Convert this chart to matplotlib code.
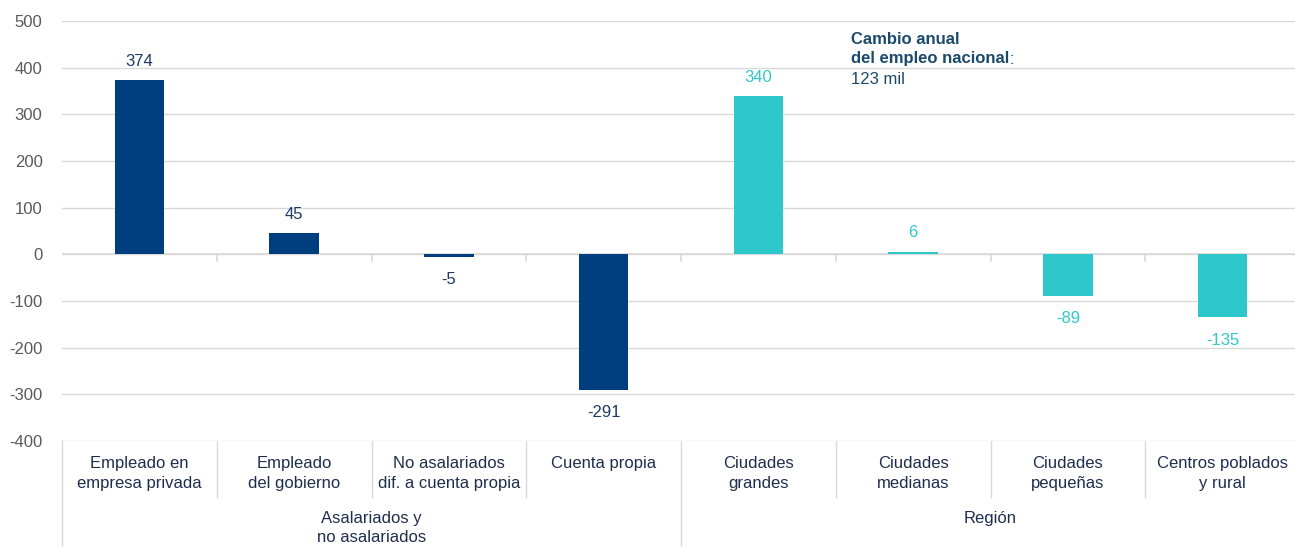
import matplotlib.pyplot as plt
import matplotlib.transforms as mtransforms

plt.rcParams['font.family'] = ['Liberation Sans', 'DejaVu Sans']
plt.rcParams['axes.unicode_minus'] = False

categories = ['Empleado en\nempresa privada', 'Empleado\ndel gobierno',
              'No asalariados\ndif. a cuenta propia', 'Cuenta propia',
              'Ciudades\ngrandes', 'Ciudades\nmedianas', 'Ciudades\npequeñas',
              'Centros poblados\ny rural']
values = [374, 45, -5, -291, 340, 6, -89, -135]
groups = ['Asalariados y\nno asalariados', 'Región']
group_sizes = [4, 4]
yticks = [-400, -300, -200, -100, 0, 100, 200, 300, 400, 500]

BLUE = '#003f7f'
TEAL = '#2ec8cc'
TEXT = '#1f2d4d'
GRID = '#d9d9d9'

W, H = 1295, 547
fig = plt.figure(figsize=(W / 100, H / 100), dpi=100)
left, right, bottom, top = 62, 1300, 441, 21
ax = fig.add_axes([left / W, (H - bottom) / H, (right - left) / W, (bottom - top) / H])

colors = [BLUE] * group_sizes[0] + [TEAL] * group_sizes[1]
x = list(range(len(values)))
ax.bar(x, values, width=0.32, color=colors, zorder=3)

for xi, v, c in zip(x, values, colors):
    lab_color = '#1f3864' if c == BLUE else TEAL
    if v >= 0:
        ax.annotate(str(v), (xi, v), xytext=(0, 8), textcoords='offset points',
                    ha='center', va='bottom', fontsize=12, color=lab_color)
    else:
        ax.annotate(str(v), (xi, v), xytext=(0, -11), textcoords='offset points',
                    ha='center', va='top', fontsize=12, color=lab_color)

ax.set_xlim(-0.5, len(values) - 0.5)
ax.set_ylim(-400, 500)
ax.set_yticks(yticks)
ax.tick_params(axis='y', length=0, labelsize=12, labelcolor='#595959', pad=14)
ax.set_xticks([])
for s in ax.spines.values():
    s.set_visible(False)
ax.grid(axis='y', color=GRID, linewidth=1, zorder=0)
ax.axhline(0, color=GRID, linewidth=1.2, zorder=2)

# small tick marks on the zero line at category boundaries
for b in range(1, len(values)):
    ax.plot([b - 0.5, b - 0.5], [0, -14], color=GRID, linewidth=1.2, zorder=2)

# two-level category axis below the plot
trans = mtransforms.blended_transform_factory(ax.transData, fig.transFigure)
def fy(py):
    return (H - py) / H

for xi, cat in zip(x, categories):
    ax.text(xi, fy(456), cat, transform=trans, ha='center', va='top',
            fontsize=12, color=TEXT, linespacing=1.4)

inner = [b - 0.5 for b in range(1, len(values)) if b != group_sizes[0]]
for b in inner:
    ax.plot([b, b], [fy(441), fy(497)], transform=trans, color=GRID,
            linewidth=1, clip_on=False)
start = 0
for g, n in zip(groups, group_sizes):
    ax.plot([start - 0.5, start - 0.5], [fy(441), fy(547)], transform=trans,
            color=GRID, linewidth=1, clip_on=False)
    ax.text(start - 0.5 + n / 2, fy(511), g, transform=trans, ha='center',
            va='top', fontsize=12, color=TEXT, linespacing=1.3)
    start += n
ax.plot([start - 0.5, start - 0.5], [fy(441), fy(547)], transform=trans,
        color=GRID, linewidth=1, clip_on=False)

# annotation
fig.text(851 / W, fy(40), 'Cambio anual', fontsize=12, fontweight='bold',
         color='#1a4a6b', va='center')
t2 = fig.text(851 / W, fy(59), 'del empleo nacional', fontsize=12, fontweight='bold',
              color='#1a4a6b', va='center')
ax.annotate(':', xy=(1, 0.5), xycoords=t2, ha='left', va='center',
            fontsize=12, color='#1a4a6b')
fig.text(851 / W, fy(80), '123 mil', fontsize=12, color='#1a4a6b', va='center')

fig.savefig('out.png', dpi=100)
